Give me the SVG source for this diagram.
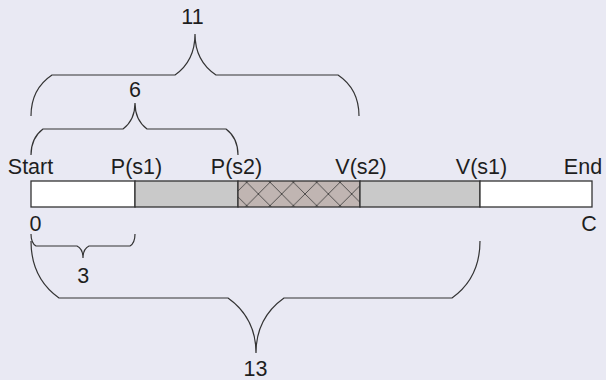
<svg xmlns="http://www.w3.org/2000/svg" width="606" height="380" viewBox="0 0 606 380">
  <style>
    text { font-family: "Liberation Sans", Arial, sans-serif; font-size: 21.5px; fill: #1e1e1e; text-anchor: middle; }
    .seg { stroke: #333; stroke-width: 1.3; }
    .white { fill: #ffffff; }
    .grey { fill: #c9c9c9; }
    .brace { fill: none; stroke: #333; stroke-width: 1.2; }
  </style>
  <defs>
    <pattern id="hatch" patternUnits="userSpaceOnUse" x="246.7" y="182.3" width="23.33" height="23.33">
      <rect width="23.33" height="23.33" fill="#c0b5b2"/>
      <path d="M0,0 L23.33,23.33 M23.33,0 L0,23.33" stroke="#333" stroke-width="0.8" fill="none"/>
    </pattern>
  </defs>
  <rect width="606" height="380" fill="#e9e9f3"/>

  <g id="bar">
    <g id="seg-start"><rect class="seg white" x="31" y="181" width="104" height="26"/></g>
    <g id="seg-p1"><rect class="seg grey" x="135" y="181" width="103" height="26"/></g>
    <g id="seg-cs"><rect class="seg" fill="url(#hatch)" x="238" y="181" width="122" height="26"/></g>
    <g id="seg-v2"><rect class="seg grey" x="360" y="181" width="120" height="26"/></g>
    <g id="seg-end"><rect class="seg white" x="480" y="181" width="112" height="26"/></g>
  </g>

  <g id="labels">
    <g id="label-start"><text x="30.5" y="174">Start</text></g>
    <g id="label-ps1"><text x="136.5" y="174">P(s1)</text></g>
    <g id="label-ps2"><text x="236.5" y="174">P(s2)</text></g>
    <g id="label-vs2"><text x="361" y="174">V(s2)</text></g>
    <g id="label-vs1"><text x="481.5" y="174">V(s1)</text></g>
    <g id="label-end"><text x="583" y="174">End</text></g>
    <g id="label-0"><text x="35.5" y="231">0</text></g>
    <g id="label-c"><text x="589" y="231">C</text></g>
  </g>

  <g id="connectors">
    <g id="brace-11">
      <path class="brace" d="M31,116 Q31,89 52,75 L175,75 Q195,61 195,34 Q195,61 216,75 L338,75 Q359,89 359,116"/>
      <text x="192.5" y="24">11</text>
    </g>
    <g id="brace-6">
      <path class="brace" d="M31,155 Q31,138 43,129 L123,129 Q135,120 135,103 Q135,120 147,129 L226,129 Q238,138 238,155"/>
      <text x="135" y="97">6</text>
    </g>
    <g id="brace-3">
      <path class="brace" d="M31,234 Q31,243 36,246 L77,246 Q83,249 83,258 Q83,249 89,246 L130,246 Q135,243 135,234"/>
      <text x="83.3" y="282.5">3</text>
    </g>
    <g id="brace-13">
      <path class="brace" d="M31,241 Q31,278 59,298 L228,298 Q256,318 256,353 Q256,318 284,298 L452,298 Q480,278 480,241"/>
      <text x="255.5" y="375.5">13</text>
    </g>
  </g>
</svg>
